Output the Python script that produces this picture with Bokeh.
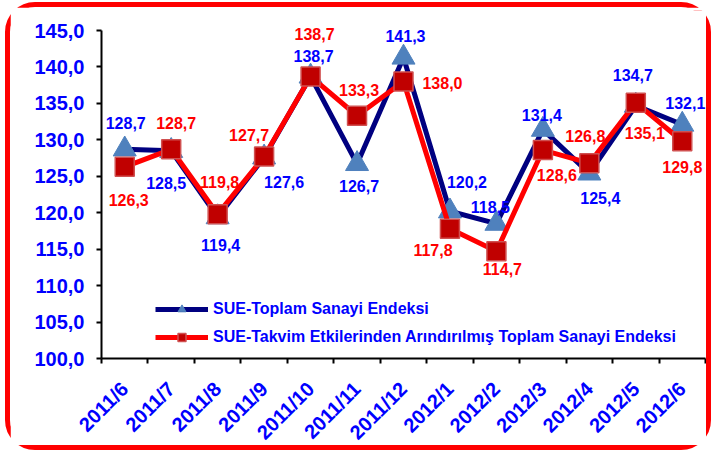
from math import pi
from bokeh.plotting import figure
from bokeh.models import (ColumnDataSource, Range1d, LinearAxis, FixedTicker, LabelSet,
                          Legend, LegendItem)
from bokeh.core.properties import value
from bokeh.embed import file_html
from bokeh.resources import INLINE

# ---------------- data ----------------
months = ["2011/6", "2011/7", "2011/8", "2011/9", "2011/10", "2011/11", "2011/12",
          "2012/1", "2012/2", "2012/3", "2012/4", "2012/5", "2012/6"]
toplam = [128.7, 128.5, 119.4, 127.6, 138.7, 126.7, 141.3, 120.2, 118.5, 131.4, 125.4, 134.7, 132.1]
takvim = [126.3, 128.7, 119.8, 127.7, 138.7, 133.3, 138.0, 117.8, 114.7, 128.6, 126.8, 135.1, 129.8]
y_ticks = [100, 105, 110, 115, 120, 125, 130, 135, 140, 145]
series_names = ["SUE-Toplam Sanayi Endeksi",
                "SUE-Takvim Etkilerinden Arındırılmış Toplam Sanayi Endeksi"]

# ---------------- label placement (screen px, +x right, +y up) ----------------
toplam_dx = [1, -5, 3, 20, 3, 2, 2, 17, -6, -1, 11, -3, 3]
toplam_dy = [26, -32, -28, -25, 20, -22, 21, 29, 17, 15, -25, 31, 22]
takvim_dx = [4, 5, 2, -15, 4, 2, 39, -17, 6, 14, -4, 9, 0]
takvim_dy = [-33, 26, 32, 22, 42, 26, -1, -21, -18, -25, 27, -30, -26]

FONT = "Liberation Sans"
BLUE = "#0000FF"
NAVY = "#000080"
RED = "#FF0000"

# layout (pixels)
AXIS_PX = 328          # pixel height of the 100..145 value axis
HEADROOM_PX = 20       # extra frame space above the top tick for labels
SLOT_PX = 604 / 13     # pixel width of one month slot
RIGHT_PX = 6           # extra frame space right of the last slot for labels


def fmt(v):
    return f"{v:.1f}".replace(".", ",")


# category slots: each month occupies one unit, centred at index + 0.5
centers = [i + 0.5 for i in range(len(months))]
bounds = list(range(len(months) + 1))

src = ColumnDataSource(dict(
    x=centers, m=months, a=toplam, b=takvim,
    la=[fmt(v) for v in toplam], lb=[fmt(v) for v in takvim],
    adx=toplam_dx, ady=toplam_dy, bdx=takvim_dx, bdy=takvim_dy,
))

y_lo, y_hi = y_ticks[0], y_ticks[-1]
y_top = y_hi + (y_hi - y_lo) * HEADROOM_PX / AXIS_PX
x_lo, x_hi = bounds[0], bounds[-1]
x_right = x_hi + RIGHT_PX / SLOT_PX

p = figure(width=706, height=448, x_range=Range1d(x_lo, x_right),
           y_range=Range1d(y_lo, y_top),
           x_axis_location=None, y_axis_location=None,
           output_backend="svg", toolbar_location=None,
           min_border_left=91, min_border_right=5, min_border_top=3, min_border_bottom=97)
p.styles = {"border": "5px solid #FF0000", "border-radius": "30px", "margin": "2px 0 0 5px"}
p.outline_line_color = None
p.xgrid.visible = False
p.ygrid.visible = False
p.background_fill_color = "white"

# y axis
yax = LinearAxis(ticker=FixedTicker(ticks=y_ticks), bounds=(y_lo, y_hi),
                 major_label_overrides={t: fmt(t) for t in y_ticks})
yax.axis_line_color = "black"
yax.axis_line_width = 2
yax.major_tick_line_width = 2
yax.major_tick_out = 5
yax.major_tick_in = 0
yax.minor_tick_line_color = None
yax.major_label_standoff = 12
yax.major_label_text_font = FONT
yax.major_label_text_font_style = "bold"
yax.major_label_text_font_size = "20px"
yax.major_label_text_color = BLUE
p.add_layout(yax, "left")

# x axis: labels at category centres, ticks at category boundaries
xax = LinearAxis(ticker=FixedTicker(ticks=centers, minor_ticks=bounds), bounds=(x_lo, x_hi),
                 major_label_overrides={c: m for c, m in zip(centers, months)})
xax.axis_line_color = "black"
xax.axis_line_width = 2
xax.major_tick_line_color = None
xax.major_tick_out = 5
xax.major_tick_in = 0
xax.minor_tick_line_color = "black"
xax.minor_tick_line_width = 2
xax.minor_tick_out = 5
xax.minor_tick_in = 0
xax.major_label_orientation = pi / 4
xax.major_label_standoff = 22
xax.major_label_text_font = FONT
xax.major_label_text_font_style = "bold"
xax.major_label_text_font_size = "20px"
xax.major_label_text_color = BLUE
p.add_layout(xax, "below")

# series
l1 = p.line("x", "a", source=src, line_color=NAVY, line_width=5)
m1 = p.scatter("x", "a", source=src, marker="triangle", size=23,
               fill_color="#4F81BD", line_color="#4F81BD")
l2 = p.line("x", "b", source=src, line_color=RED, line_width=5)
m2 = p.scatter("x", "b", source=src, marker="square", size=19,
               fill_color="#C00000", line_color="#D05050", line_width=1.5)

for ycol, tcol, dx, dy, color in (("a", "la", "adx", "ady", BLUE), ("b", "lb", "bdx", "bdy", RED)):
    ls = LabelSet(x="x", y=ycol, text=tcol,
                  x_offset=dx, y_offset=dy, source=src,
                  text_align="center", text_baseline="middle",
                  text_font=value(FONT), text_font_style="bold", text_font_size="16px",
                  text_color=color)
    p.add_layout(ls)

legend = Legend(items=[LegendItem(label=series_names[0], renderers=[l1, m1]),
                       LegendItem(label=series_names[1], renderers=[l2, m2])],
                location=(54, 11))
legend.border_line_color = None
legend.background_fill_alpha = 0
legend.padding = 0
legend.margin = 0
legend.spacing = 8
legend.glyph_width = 53
legend.glyph_height = 20
legend.label_height = 20
legend.label_standoff = 5
legend.label_text_font = FONT
legend.label_text_font_style = "bold"
legend.label_text_font_size = "16px"
legend.label_text_color = BLUE
p.add_layout(legend, "center")

open("out.html", "w").write(file_html(p, INLINE))
